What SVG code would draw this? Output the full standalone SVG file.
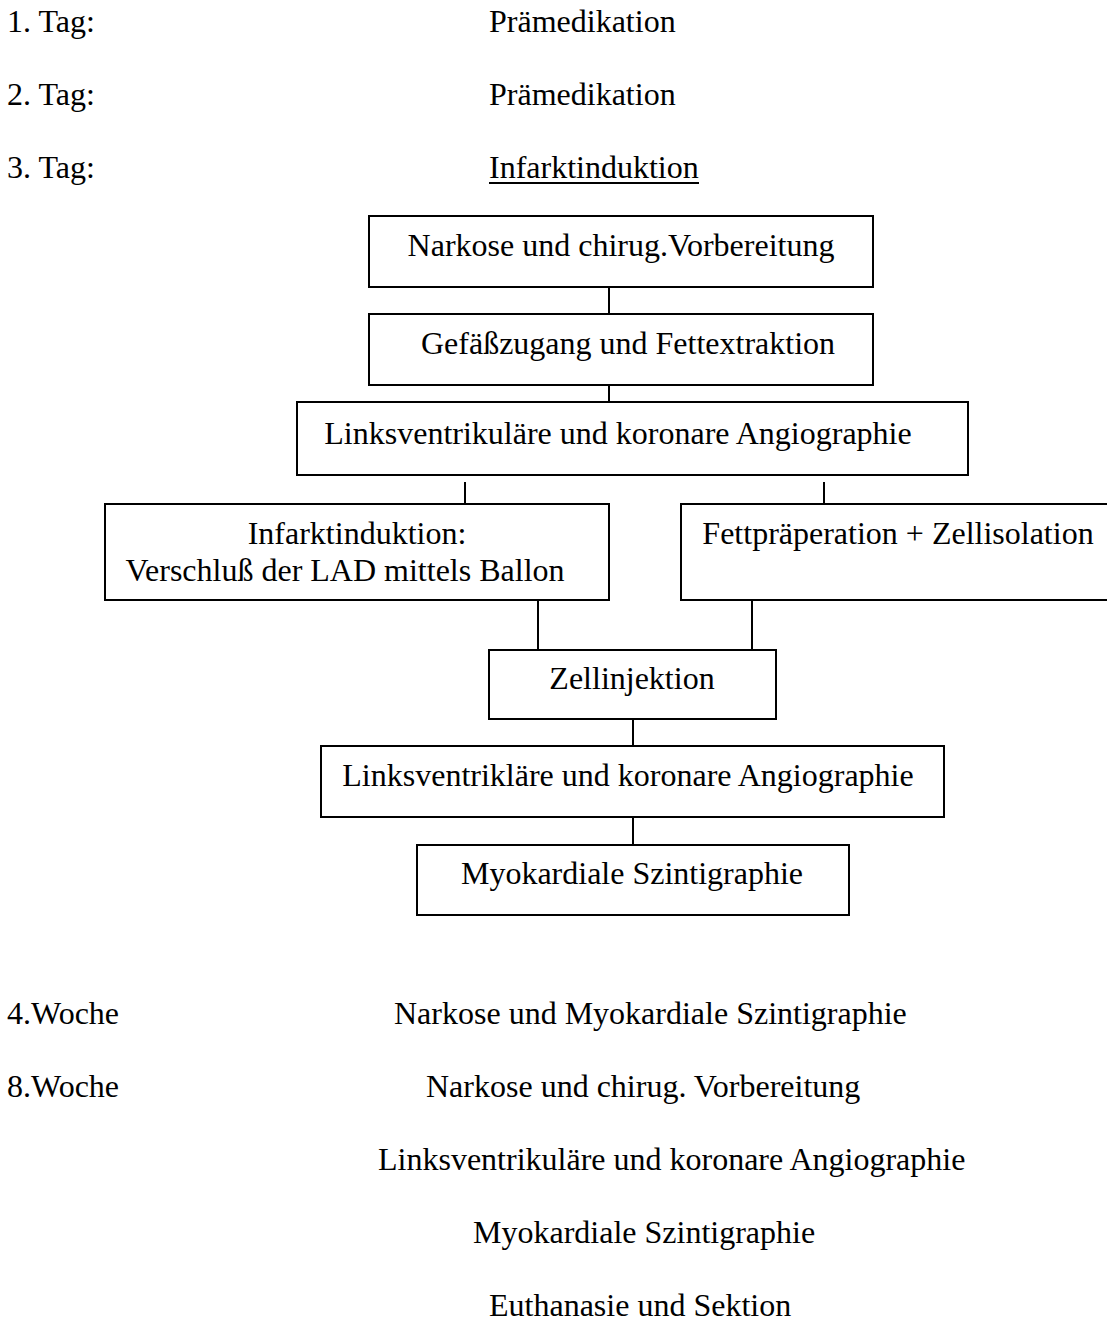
<svg xmlns="http://www.w3.org/2000/svg" width="1107" height="1323" viewBox="0 0 1107 1323">
<style>
text{font-family:"Liberation Serif","Times New Roman",serif;font-size:32px;fill:#000}
.c{text-anchor:middle}
.box{fill:#fff;stroke:#000;stroke-width:2}
.ln{stroke:#000;stroke-width:2;fill:none}
</style>
<rect width="1107" height="1323" fill="#fff"/>
<g id="schedule-top">
<text x="7" y="32">1. Tag:</text>
<text x="489" y="32">Prämedikation</text>
<text x="7" y="105">2. Tag:</text>
<text x="489" y="105">Prämedikation</text>
<text x="7" y="178">3. Tag:</text>
<text x="489" y="178">Infarktinduktion</text>
<line class="ln" x1="489" y1="183" x2="699" y2="183"/>
</g>
<g id="connectors">
<line class="ln" x1="609" y1="287" x2="609" y2="314"/>
<line class="ln" x1="609" y1="385" x2="609" y2="402"/>
<line class="ln" x1="465" y1="482" x2="465" y2="504"/>
<line class="ln" x1="824" y1="482" x2="824" y2="504"/>
<line class="ln" x1="538" y1="600" x2="538" y2="650"/>
<line class="ln" x1="752" y1="600" x2="752" y2="650"/>
<line class="ln" x1="633" y1="719" x2="633" y2="746"/>
<line class="ln" x1="633" y1="817" x2="633" y2="845"/>
</g>
<g id="n1"><rect class="box" x="369" y="216" width="504" height="71"/><text class="c" x="621" y="256">Narkose und chirug.Vorbereitung</text></g>
<g id="n2"><rect class="box" x="369" y="314" width="504" height="71"/><text class="c" x="628" y="354">Gefäßzugang und Fettextraktion</text></g>
<g id="n3"><rect class="box" x="297" y="402" width="671" height="73"/><text class="c" x="618" y="444">Linksventrikuläre und koronare Angiographie</text></g>
<g id="n4"><rect class="box" x="105" y="504" width="504" height="96"/><text class="c" x="357" y="544">Infarktinduktion:</text><text class="c" x="345" y="581">Verschluß der LAD mittels Ballon</text></g>
<g id="n5"><rect class="box" x="681" y="504" width="440" height="96"/><text class="c" x="898" y="544">Fettpräperation + Zellisolation</text></g>
<g id="n6"><rect class="box" x="489" y="650" width="287" height="69"/><text class="c" x="632" y="689">Zellinjektion</text></g>
<g id="n7"><rect class="box" x="321" y="746" width="623" height="71"/><text class="c" x="628" y="786">Linksventrikläre und koronare Angiographie</text></g>
<g id="n8"><rect class="box" x="417" y="845" width="432" height="70"/><text class="c" x="632" y="884">Myokardiale Szintigraphie</text></g>
<g id="schedule-bottom">
<text x="7" y="1024">4.Woche</text>
<text x="394" y="1024">Narkose und Myokardiale Szintigraphie</text>
<text x="7" y="1097">8.Woche</text>
<text x="426" y="1097">Narkose und chirug. Vorbereitung</text>
<text x="378" y="1170">Linksventrikuläre und koronare Angiographie</text>
<text x="473" y="1243">Myokardiale Szintigraphie</text>
<text x="489" y="1316">Euthanasie und Sektion</text>
</g>
</svg>
